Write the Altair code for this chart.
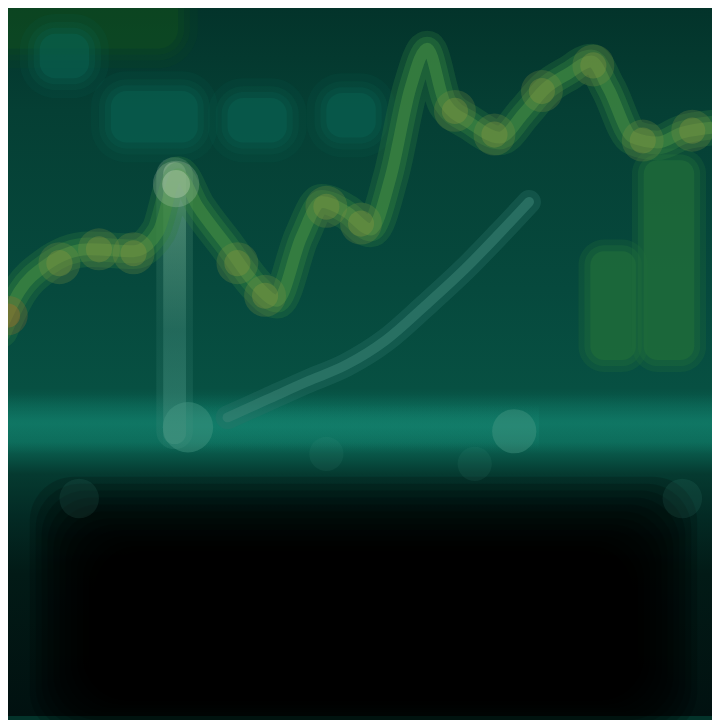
import altair as alt
import pandas as pd

# Main olive/green zigzag series (x, y in picture units)
zig_x = [0, 20, 45, 90, 135, 160, 180, 200, 230, 260, 280, 305, 325, 350, 375, 395, 415, 432, 450, 475, 505, 530, 552, 575, 598, 615, 640, 665, 690, 720]
zig_y = [330, 290, 265, 248, 250, 230, 172, 205, 245, 285, 300, 235, 200, 210, 228, 175, 85, 45, 100, 120, 135, 110, 85, 70, 58, 85, 135, 140, 130, 125]

# olive highlights along the line
hi_x = [60, 100, 135, 240, 268, 330, 365, 460, 500, 548, 600, 650, 700]
hi_y = [262, 248, 252, 262, 295, 205, 222, 108, 132, 88, 62, 138, 128]

# faint rising curve
cur_x = [230, 270, 310, 350, 390, 430, 470, 505, 535]
cur_y = [418, 400, 382, 365, 340, 305, 268, 232, 200]

# green bars at right
bar_x = [597, 651]
bar_x2 = [643, 702]
bar_y = [250, 158]
bar_y2 = [360, 360]

# bright spots on teal band
spot_x = [190, 520, 330, 480, 80, 690]
spot_y = [428, 432, 455, 465, 500, 500]
spot_s = [2600, 2000, 1200, 1200, 1600, 1600]
spot_o = [0.4, 0.4, 0.1, 0.1, 0.12, 0.12]

# faint teal text-like blocks near top
blk_x = [112, 230, 330, 40]
blk_x2 = [200, 290, 380, 90]
blk_y = [88, 95, 90, 30]
blk_y2 = [140, 140, 135, 75]

# dark lower area: nested shadow layers (outer -> inner)
shade_x = [30, 36, 42, 48, 54, 60, 66, 72, 78, 84, 90, 96, 102, 108]
shade_x2 = [705, 699, 693, 687, 681, 675, 669, 663, 657, 651, 645, 639, 633, 627]
shade_y = [478, 485, 492, 499, 506, 513, 520, 526, 532, 538, 543, 548, 553, 558]
shade_y2 = [740, 736, 732, 728, 724, 720, 716, 712, 708, 704, 700, 696, 692, 688]

W = 712
xs = alt.Scale(domain=[8, 720], nice=False, zero=False)
ys = alt.Scale(domain=[8, 720], nice=False, zero=False, reverse=True)
X = lambda f: alt.X(f, scale=xs, axis=None)
Y = lambda f: alt.Y(f, scale=ys, axis=None)


def soft_rects(df, color, opacity, spread=(0, 6, 12, 20), radius=16):
    layers = []
    for i, s in enumerate(spread):
        d = df.copy()
        d["x"] = d["x"] - s
        d["x2"] = d["x2"] + s
        d["y"] = d["y"] - s
        d["y2"] = d["y2"] + s
        layers.append(alt.Chart(d).mark_rect(color=color, opacity=opacity / (i + 1.3),
                                             cornerRadius=radius + s).encode(
            x=X("x:Q"), x2="x2", y=Y("y:Q"), y2="y2"))
    return layers


bg = pd.DataFrame({"x": [0], "x2": [720], "y": [0], "y2": [720]})
bgrad = alt.Gradient(gradient="linear", x1=0, y1=0, x2=0, y2=1, stops=[
    alt.GradientStop(color="#03332a", offset=0.0),
    alt.GradientStop(color="#053f34", offset=0.15),
    alt.GradientStop(color="#06493d", offset=0.4),
    alt.GradientStop(color="#075042", offset=0.54),
    alt.GradientStop(color="#0b6a59", offset=0.585),
    alt.GradientStop(color="#0b6857", offset=0.615),
    alt.GradientStop(color="#053a30", offset=0.66),
    alt.GradientStop(color="#032a24", offset=0.72),
    alt.GradientStop(color="#021a16", offset=0.8),
    alt.GradientStop(color="#011110", offset=1.0),
])
base = alt.Chart(bg).mark_rect(color=bgrad).encode(x=X("x:Q"), x2="x2", y=Y("y:Q"), y2="y2")

shade = pd.DataFrame({"x": shade_x, "x2": shade_x2, "y": shade_y, "y2": shade_y2})
shadec = alt.Chart(shade).mark_rect(color="#000000", opacity=0.17, cornerRadius=45).encode(
    x=X("x:Q"), x2="x2", y=Y("y:Q"), y2="y2")

# teal band
band = pd.DataFrame({"x": [0, 165], "x2": [720, 545], "y": [395, 405], "y2": [455, 450]})
bandgrad = alt.Gradient(gradient="linear", x1=0, y1=0, x2=0, y2=1, stops=[
    alt.GradientStop(color="rgba(20,130,110,0)", offset=0.0),
    alt.GradientStop(color="rgba(20,130,110,0.5)", offset=0.5),
    alt.GradientStop(color="rgba(20,130,110,0)", offset=1.0),
])
bandc = alt.Chart(band).mark_rect(color=bandgrad).encode(x=X("x:Q"), x2="x2", y=Y("y:Q"), y2="y2")

glow = pd.DataFrame({"x": [-20], "x2": [180], "y": [-20], "y2": [45]})
glowc = soft_rects(glow, "#125020", 0.55, radius=20)

blocks = pd.DataFrame({"x": blk_x, "x2": blk_x2, "y": blk_y, "y2": blk_y2})
blockc = soft_rects(blocks, "#0b6657", 0.5)

bars = pd.DataFrame({"x": bar_x, "x2": bar_x2, "y": bar_y, "y2": bar_y2})
barglow = soft_rects(bars, "#1f6c3a", 0.9, spread=(0, 6, 12), radius=14)

# vertical light bar
vb = pd.DataFrame({"x": [165], "x2": [188], "y": [160], "y2": [445]})
vgrad = alt.Gradient(gradient="linear", x1=0, y1=0, x2=0, y2=1, stops=[
    alt.GradientStop(color="#a7c4a6", offset=0.0),
    alt.GradientStop(color="#5c9a80", offset=0.2),
    alt.GradientStop(color="#2e7566", offset=0.6),
    alt.GradientStop(color="#3a8a78", offset=1.0),
])
vbar = alt.Chart(vb).mark_rect(color=vgrad, opacity=0.6, cornerRadius=11).encode(
    x=X("x:Q"), x2="x2", y=Y("y:Q"), y2="y2")
vb2 = pd.DataFrame({"x": [158], "x2": [195], "y": [155], "y2": [450]})
vbar2 = alt.Chart(vb2).mark_rect(color=vgrad, opacity=0.25, cornerRadius=18).encode(
    x=X("x:Q"), x2="x2", y=Y("y:Q"), y2="y2")

cur = pd.DataFrame({"x": cur_x, "y": cur_y})
curve_w = alt.Chart(cur).mark_line(color="#2c7266", strokeWidth=24, opacity=0.35, interpolate="monotone",
                                   strokeCap="round").encode(x=X("x:Q"), y=Y("y:Q"))
curve = alt.Chart(cur).mark_line(color="#3a8474", strokeWidth=10, opacity=0.55, interpolate="monotone",
                                 strokeCap="round").encode(x=X("x:Q"), y=Y("y:Q"))

zz = pd.DataFrame({"x": zig_x, "y": zig_y})
zig_w = alt.Chart(zz).mark_line(color="#2d7a40", strokeWidth=36, opacity=0.3, interpolate="monotone",
                                strokeCap="round", strokeJoin="round").encode(x=X("x:Q"), y=Y("y:Q"))
zig_m = alt.Chart(zz).mark_line(color="#32803f", strokeWidth=24, opacity=0.4, interpolate="monotone",
                                strokeCap="round", strokeJoin="round").encode(x=X("x:Q"), y=Y("y:Q"))
zig = alt.Chart(zz).mark_line(color="#438a42", strokeWidth=12, opacity=0.6, interpolate="monotone",
                              strokeCap="round", strokeJoin="round").encode(x=X("x:Q"), y=Y("y:Q"))

hi = pd.DataFrame({"x": hi_x, "y": hi_y})
hic_w = alt.Chart(hi).mark_circle(color="#7f9440", size=1800, opacity=0.25).encode(x=X("x:Q"), y=Y("y:Q"))
hic = alt.Chart(hi).mark_circle(color="#86983f", size=700, opacity=0.35).encode(x=X("x:Q"), y=Y("y:Q"))

sp = pd.DataFrame({"x": spot_x, "y": spot_y, "s": spot_s, "o": spot_o})
spc = alt.Chart(sp).mark_circle(color="#4a9a88").encode(
    x=X("x:Q"), y=Y("y:Q"),
    size=alt.Size("s:Q", scale=None, legend=None),
    opacity=alt.Opacity("o:Q", scale=None, legend=None))

pk = pd.DataFrame({"x": [178, 178], "y": [182, 182], "s": [2200, 800], "o": [0.25, 0.4]})
pkc = alt.Chart(pk).mark_circle(color="#b9cfb0").encode(
    x=X("x:Q"), y=Y("y:Q"),
    size=alt.Size("s:Q", scale=None, legend=None),
    opacity=alt.Opacity("o:Q", scale=None, legend=None))

# warm glow at the line's left end
og = pd.DataFrame({"x": [8, 8], "y": [315, 315], "s": [1600, 600], "o": [0.25, 0.4]})
ogc = alt.Chart(og).mark_circle(color="#a0702a").encode(
    x=X("x:Q"), y=Y("y:Q"),
    size=alt.Size("s:Q", scale=None, legend=None),
    opacity=alt.Opacity("o:Q", scale=None, legend=None))

layers = [base] + glowc + blockc + [bandc, shadec] + barglow + [
    vbar2, vbar, curve_w, curve, zig_w, zig_m, zig, hic_w, hic, spc, pkc, ogc]
chart = alt.layer(*layers).properties(
    width=W, height=W, padding=0, autosize=alt.AutoSizeParams(type="none"), background="#03332a"
).configure_view(stroke=None)

chart.save("out.html", embed_options={"renderer": "svg", "actions": False})
